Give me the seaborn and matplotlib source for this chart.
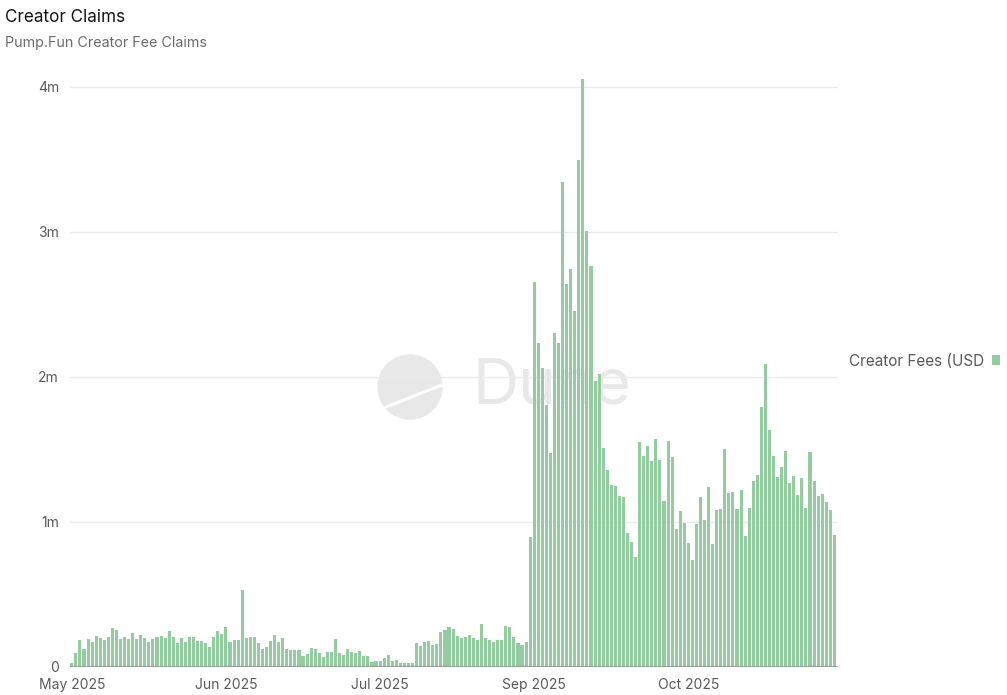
import matplotlib
matplotlib.use("Agg")
import matplotlib.pyplot as plt
from matplotlib.patches import Ellipse
from matplotlib.lines import Line2D
import pandas as pd
import seaborn as sns

# ---------------- DATA ----------------
series_name = "Creator Fees (USD"
start_date = "2025-05-13"

# daily creator fee claims, millions USD
fees_m = [
    0.03, 0.094, 0.186, 0.122, 0.19, 0.172, 0.214, 0.20, 0.186, 0.21,
    0.267, 0.257, 0.19, 0.21, 0.195, 0.232, 0.193, 0.22, 0.198, 0.17,
    0.193, 0.207, 0.216, 0.2, 0.246, 0.209, 0.163, 0.2, 0.17, 0.21,
    0.21, 0.177,
    0.18, 0.168, 0.14, 0.21, 0.246, 0.228, 0.278, 0.172, 0.189, 0.186,
    0.531, 0.198, 0.207, 0.207, 0.163, 0.124, 0.14, 0.179, 0.223, 0.172,
    0.198, 0.124, 0.117, 0.115, 0.115, 0.074, 0.09, 0.131, 0.126, 0.094,
    0.069, 0.101, 0.101, 0.195,
    0.094, 0.08, 0.122, 0.101, 0.097, 0.113, 0.078, 0.074, 0.032, 0.041,
    0.041, 0.06, 0.08, 0.044, 0.046, 0.028, 0.025, 0.03, 0.03, 0.168,
    0.145, 0.17, 0.177, 0.152, 0.159, 0.241, 0.255, 0.278, 0.264, 0.214,
    0.20, 0.207, 0.222,
    0.197, 0.184, 0.296, 0.203, 0.186, 0.175, 0.186, 0.189, 0.282, 0.274,
    0.205, 0.167, 0.151, 0.173, 0.896, 2.652, 2.233, 2.063, 1.808, 1.474,
    2.301, 2.233, 3.342, 2.638, 2.745, 2.455, 3.499, 4.058, 3.008, 2.767,
    1.973, 2.022,
    1.51, 1.356, 1.257, 1.248, 1.179, 1.175, 0.922, 0.864, 0.759, 1.552,
    1.455, 1.522, 1.421, 1.570, 1.425, 1.147, 1.556, 1.446, 0.954, 1.078,
    0.993, 0.853, 0.738, 0.986, 1.175, 1.011, 1.241, 0.846, 1.083, 1.087,
    1.503, 1.198, 1.207, 1.087, 1.218, 0.901, 1.099, 1.283, 1.324, 1.791,
    2.087, 1.634, 1.455, 1.308, 1.382, 1.487, 1.267, 1.317, 1.189, 1.303,
    1.094, 1.480, 1.285, 1.177, 1.191, 1.136, 1.083, 0.910,
]

y_ticks = [0, 1e6, 2e6, 3e6, 4e6]
y_tick_labels = ["0", "1m", "2m", "3m", "4m"]
label_every = 38  # category axis shows every 38th day

dates = pd.date_range(start_date, periods=len(fees_m), freq="D")
df = pd.DataFrame({
    "day": dates.strftime("%Y-%m-%d"),
    "fees": [v * 1e6 for v in fees_m],
    "series": series_name,
})

# ---------------- STYLE ----------------
sns.set_theme(style="white")
plt.rcParams["font.family"] = ["Inter", "DejaVu Sans"]

bar_color = "#94CBA1"
text_gray = "#5a5a5a"

W, H = 1007, 695
fig = plt.figure(figsize=(W / 100, H / 100), dpi=100)
fig.patch.set_facecolor("white")
ax = fig.add_axes([70 / W, 28 / H, 768 / W, 607 / H])
ax.patch.set_facecolor("none")


def fx(x):
    return x / W


def fy(y):
    return 1 - y / H


# Dune watermark (behind everything)
fig.add_artist(Ellipse((fx(410), fy(387)), 64 / W, 64 / H, color="#e8e8e8",
                       transform=fig.transFigure, zorder=-2))
fig.add_artist(Line2D([fx(386), fx(442)], [fy(407), fy(385)], color="white",
                      lw=2.2, transform=fig.transFigure, zorder=-1))
fig.text(fx(472), fy(387), "Dune", fontsize=46, color="#e8e8e8",
         va="center", ha="left", zorder=-1)

# ---------------- PLOT ----------------
sns.barplot(data=df, x="day", y="fees", hue="series", palette=[bar_color],
            saturation=1, width=0.76, linewidth=0, ax=ax, zorder=2)

ax.set_xlim(-0.45, len(fees_m) - 0.1)
ax.set_ylim(0, 4.186e6)
ax.set_yticks(y_ticks)
ax.set_yticklabels(y_tick_labels)
tick_pos = list(range(0, len(fees_m), label_every))
ax.set_xticks(tick_pos)
ax.set_xticklabels([dates[i].strftime("%b %Y") for i in tick_pos])
ax.tick_params(axis="both", length=0, labelsize=10, labelcolor=text_gray)
ax.tick_params(axis="y", pad=8)
ax.tick_params(axis="x", pad=8)
ax.set_xlabel("")
ax.set_ylabel("")
ax.grid(axis="y", color="#ebebeb", lw=1)
ax.set_axisbelow(True)
sns.despine(ax=ax, left=True, bottom=True)
ax.axhline(0, color="#8f8f8f", lw=1.8, zorder=3)

sns.move_legend(ax, "center left", bbox_to_anchor=(fx(849), fy(361)),
                bbox_transform=fig.transFigure, frameon=False, title=None,
                markerfirst=False, handlelength=0.55, handleheight=0.55,
                handletextpad=0.5, borderpad=0, borderaxespad=0,
                fontsize=11, labelcolor=text_gray)

fig.text(fx(5), fy(17), "Creator Claims", fontsize=12.3, color="#151515",
         va="center", ha="left")
fig.text(fx(5), fy(43), "Pump.Fun Creator Fee Claims", fontsize=10.3,
         color="#6b6b6b", va="center", ha="left")

fig.savefig("out.png", dpi=100)
